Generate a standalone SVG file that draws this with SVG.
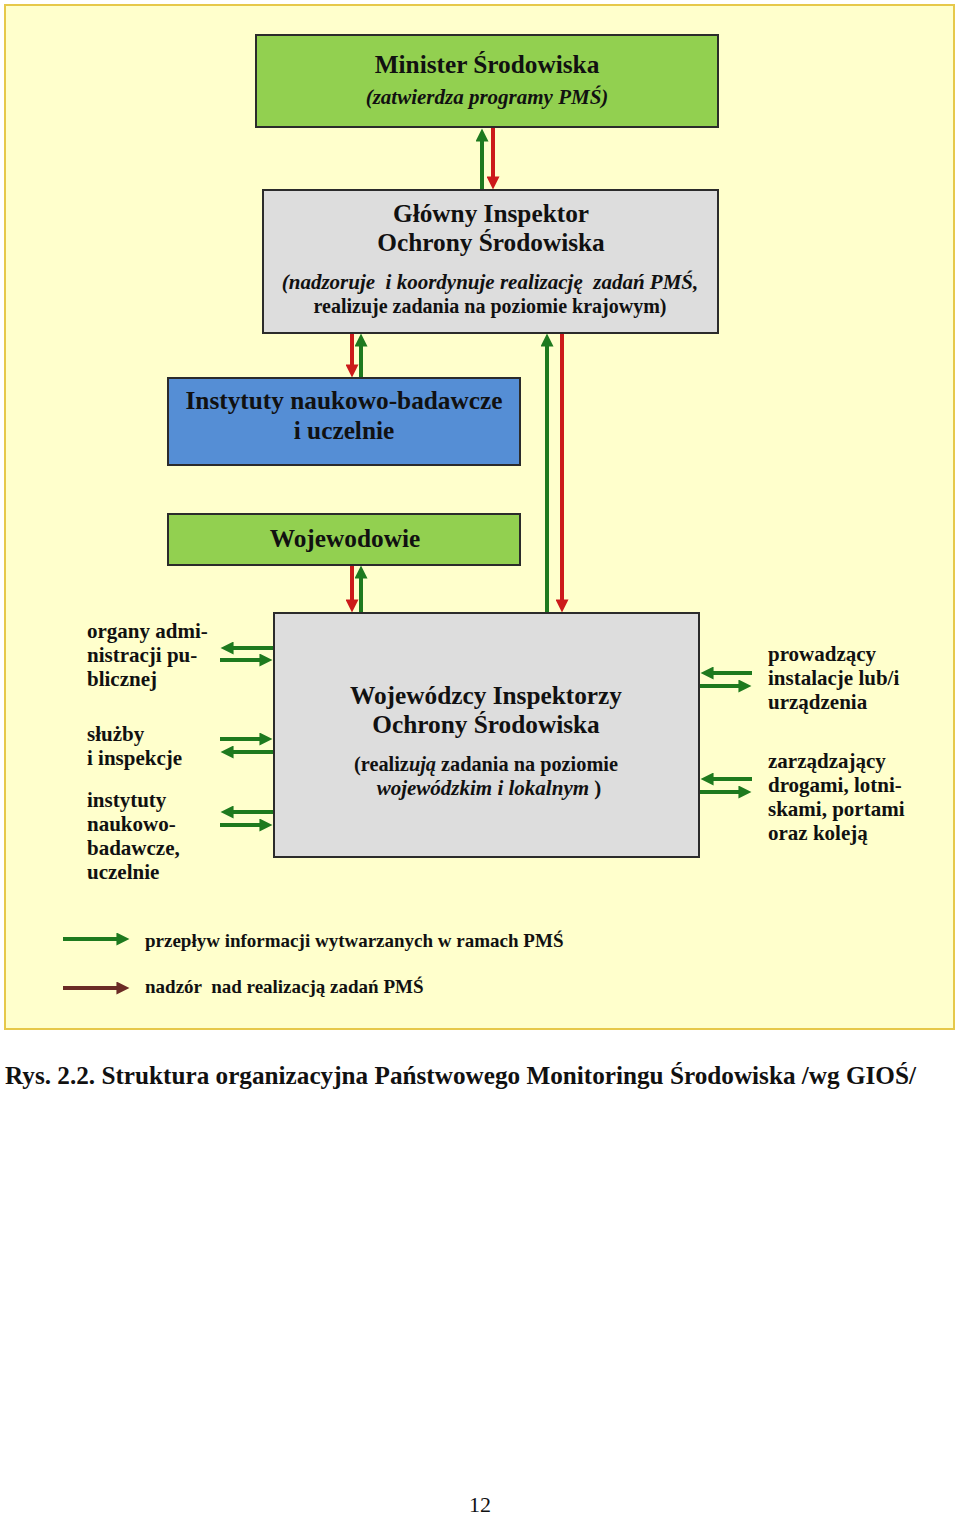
<svg xmlns="http://www.w3.org/2000/svg" width="960" height="1516" viewBox="0 0 960 1516">
<style>
text{font-family:"Liberation Serif","Times New Roman",serif;font-weight:bold;fill:#111;}
.t{font-size:25.3px;text-anchor:middle;}
.s{font-size:21px;text-anchor:middle;}
.i{font-style:italic;}
.side{font-size:21px;}
.leg{font-size:19px;}
.box{stroke:#2b2b2b;stroke-width:2;}
.g{stroke:#1e7a1e;stroke-width:4;fill:none;}
.r{stroke:#cc1a1a;stroke-width:4;fill:none;}
.b{stroke:#6b2b25;stroke-width:4;fill:none;}
</style>
<defs>
<marker id="ag" viewBox="0 0 14 14" refX="6" refY="7" markerWidth="14" markerHeight="13" markerUnits="userSpaceOnUse" orient="auto"><path d="M0,0 L14,7 L0,14 z" fill="#1e7a1e"/></marker>
<marker id="ar" viewBox="0 0 14 14" refX="6" refY="7" markerWidth="14" markerHeight="13" markerUnits="userSpaceOnUse" orient="auto"><path d="M0,0 L14,7 L0,14 z" fill="#cc1a1a"/></marker>
<marker id="ab" viewBox="0 0 14 14" refX="6" refY="7" markerWidth="14" markerHeight="13" markerUnits="userSpaceOnUse" orient="auto"><path d="M0,0 L14,7 L0,14 z" fill="#6b2b25"/></marker>
</defs>
<rect x="0" y="0" width="960" height="1516" fill="#fff"/>
<rect id="frame" x="5" y="5" width="949" height="1024" fill="#ffffcc" stroke="#e6c84a" stroke-width="2"/>

<g id="connectors">
<path class="g" d="M482,190 L482,136" marker-end="url(#ag)"/>
<path class="r" d="M493,128 L493,182" marker-end="url(#ar)"/>
<path class="r" d="M352,333 L352,370" marker-end="url(#ar)"/>
<path class="g" d="M361,378 L361,341" marker-end="url(#ag)"/>
<path class="g" d="M547,613 L547,341" marker-end="url(#ag)"/>
<path class="r" d="M562,333 L562,605" marker-end="url(#ar)"/>
<path class="r" d="M352,565 L352,605" marker-end="url(#ar)"/>
<path class="g" d="M361,613 L361,573" marker-end="url(#ag)"/>
<path class="g" d="M273,648 L228,648" marker-end="url(#ag)"/>
<path class="g" d="M220,660 L265,660" marker-end="url(#ag)"/>
<path class="g" d="M220,739 L265,739" marker-end="url(#ag)"/>
<path class="g" d="M273,752 L228,752" marker-end="url(#ag)"/>
<path class="g" d="M273,812 L228,812" marker-end="url(#ag)"/>
<path class="g" d="M220,825 L265,825" marker-end="url(#ag)"/>
<path class="g" d="M752,673 L708,673" marker-end="url(#ag)"/>
<path class="g" d="M700,686 L744,686" marker-end="url(#ag)"/>
<path class="g" d="M752,779 L708,779" marker-end="url(#ag)"/>
<path class="g" d="M700,792 L744,792" marker-end="url(#ag)"/>
</g>

<g id="minister">
<rect class="box" x="256" y="35" width="462" height="92" fill="#92d050"/>
<text class="t" x="487" y="73">Minister Środowiska</text>
<text class="s i" x="487" y="104">(zatwierdza programy PMŚ)</text>
</g>

<g id="gios">
<rect class="box" x="263" y="190" width="455" height="143" fill="#dddddd"/>
<text class="t" x="491" y="222">Główny Inspektor</text>
<text class="t" x="491" y="251">Ochrony Środowiska</text>
<text class="s i" x="490" y="289" xml:space="preserve">(nadzoruje  i koordynuje realizację  zadań PMŚ,</text>
<text class="s" x="490" y="313" style="font-size:20px">realizuje zadania na poziomie krajowym)</text>
</g>

<g id="instytuty">
<rect class="box" x="168" y="378" width="352" height="87" fill="#558ed5"/>
<text class="t" x="344" y="409">Instytuty naukowo-badawcze</text>
<text class="t" x="344" y="439">i uczelnie</text>
</g>

<g id="wojewodowie">
<rect class="box" x="168" y="514" width="352" height="51" fill="#92d050"/>
<text class="t" x="345" y="547">Wojewodowie</text>
</g>

<g id="wios">
<rect class="box" x="274" y="613" width="425" height="244" fill="#dddddd"/>
<text class="t" x="486" y="704">Wojewódzcy Inspektorzy</text>
<text class="t" x="486" y="733">Ochrony Środowiska</text>
<text class="s" x="486" y="771" style="font-size:20.3px">(realiz<tspan font-style="italic">ują</tspan> zadania na poziomie</text>
<text class="s" x="489" y="795"><tspan font-style="italic">wojewódzkim i lokalnym</tspan> )</text>
</g>

<g id="left-labels">
<text class="side" x="87" y="638">organy admi-</text>
<text class="side" x="87" y="662">nistracji pu-</text>
<text class="side" x="87" y="686">blicznej</text>
<text class="side" x="87" y="741">służby</text>
<text class="side" x="87" y="765">i inspekcje</text>
<text class="side" x="87" y="807">instytuty</text>
<text class="side" x="87" y="831">naukowo-</text>
<text class="side" x="87" y="855">badawcze,</text>
<text class="side" x="87" y="879">uczelnie</text>
</g>

<g id="right-labels">
<text class="side" x="768" y="661">prowadzący</text>
<text class="side" x="768" y="685">instalacje lub/i</text>
<text class="side" x="768" y="709">urządzenia</text>
<text class="side" x="768" y="768">zarządzający</text>
<text class="side" x="768" y="792">drogami, lotni-</text>
<text class="side" x="768" y="816">skami, portami</text>
<text class="side" x="768" y="840">oraz koleją</text>
</g>

<g id="legend">
<path class="g" d="M63,939 L122,939" marker-end="url(#ag)"/>
<path class="b" d="M63,988 L122,988" marker-end="url(#ab)"/>
<text class="leg" x="145" y="947">przepływ informacji wytwarzanych w ramach PMŚ</text>
<text class="leg" x="145" y="993" xml:space="preserve">nadzór  nad realizacją zadań PMŚ</text>
</g>

<text x="5" y="1084" style="font-size:25px" textLength="911" lengthAdjust="spacingAndGlyphs">Rys. 2.2. Struktura organizacyjna Państwowego Monitoringu Środowiska /wg GIOŚ/</text>
<text x="480" y="1512" style="font-size:22px;font-weight:normal;text-anchor:middle">12</text>
</svg>
